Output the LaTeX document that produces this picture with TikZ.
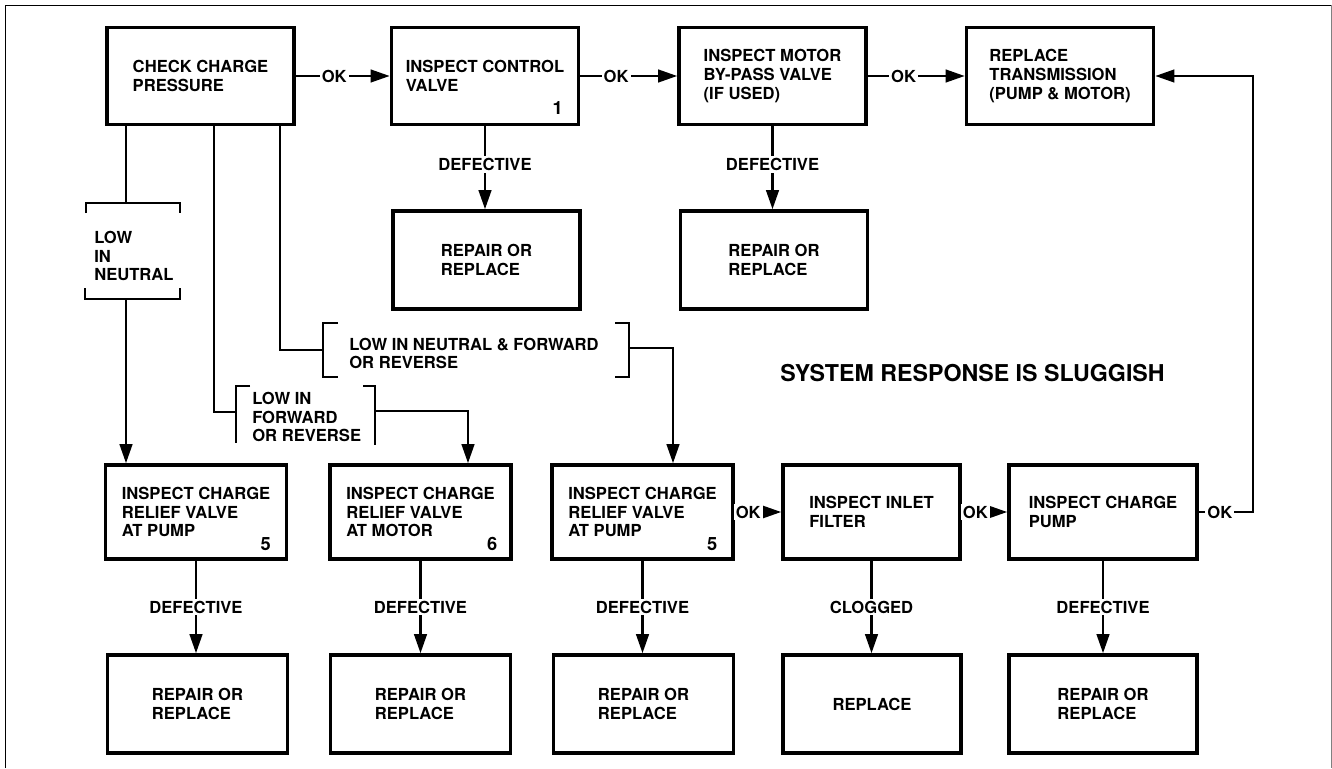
\documentclass[tikz,border=0pt]{standalone}
\usepackage{fontspec}
\setmainfont{TeX Gyre Heros}
\usepackage{tikz}
\usetikzlibrary{arrows.meta,positioning,calc}
\newcommand{\chartfont}{\fontsize{11.8}{13.4}\selectfont\bfseries}
\tikzset{
  box/.style={draw, line width=2.3pt, fill=white, align=left, inner sep=0pt, font=\chartfont, minimum width=4.675cm, minimum height=2.425cm},
  lowbox/.style={box, minimum width=4.525cm, minimum height=2.35cm},
  fixbox/.style={box, minimum width=4.5cm, minimum height=2.45cm},
  conn/.style={-{Triangle[length=4.8mm,width=3.1mm]}, line width=2.1pt},
  wire/.style={line width=2.1pt},
  lab/.style={fill=white, inner sep=1.5pt, font=\chartfont},
  cond/.style={align=left, inner sep=0pt, anchor=west, font=\chartfont},
  num/.style={inner sep=0pt, anchor=south east, font=\fontsize{13}{13}\selectfont\bfseries},
  frame/.style={line width=0.6pt}
}
\begin{document}
\begin{tikzpicture}[x=0.025cm, y=-0.025cm]
  \useasboundingbox (0,0) rectangle (1332,768);
  \draw[frame] (5,768) -- (5,5) -- (1331,5);
  \draw[frame, gray] (1331,5) -- (1331,768);

  % top row
  \node[box] (A) at (200.5,76) {CHECK CHARGE\\PRESSURE};
  \node[box] (B) at (485,76) {INSPECT CONTROL\\VALVE};
  \node[box] (C) at (772.5,76) {INSPECT MOTOR\\BY-PASS VALVE\\(IF USED)};
  \node[box] (D) at (1060,76) {REPLACE\\TRANSMISSION\\(PUMP \& MOTOR)};
  \node[box, minimum height=2.45cm] (R1) at (486.5,260) {REPAIR OR\\REPLACE};
  \node[box, minimum height=2.45cm] (R2) at (774,260) {REPAIR OR\\REPLACE};
  \node[num] (nB) at ($(B.south east)+(-17,-11)$) {1};

  % bottom row
  \node[lowbox] (E) at (196,512) {INSPECT CHARGE\\RELIEF VALVE\\AT PUMP};
  \node[lowbox] (F) at (420.5,512) {INSPECT CHARGE\\RELIEF VALVE\\AT MOTOR};
  \node[lowbox] (G) at (642.5,512) {INSPECT CHARGE\\RELIEF VALVE\\AT PUMP};
  \node[lowbox, minimum width=4.425cm] (H) at (871.5,512) {INSPECT INLET\\FILTER};
  \node[lowbox, minimum width=4.7cm] (I) at (1103,512) {INSPECT CHARGE\\PUMP};
  \node[num] (nE) at ($(E.south east)+(-17,-10)$) {5};
  \node[num] (nF) at ($(F.south east)+(-15,-10)$) {6};
  \node[num] (nG) at ($(G.south east)+(-17,-10)$) {5};

  \node[fixbox] (R3) at (197.5,704) {REPAIR OR\\REPLACE};
  \node[fixbox] (R4) at (420.5,704) {REPAIR OR\\REPLACE};
  \node[fixbox] (R5) at (643.5,704) {REPAIR OR\\REPLACE};
  \node[fixbox, minimum width=4.45cm] (R6) at (872,704) {REPLACE};
  \node[fixbox, minimum width=4.7cm] (R7) at (1103,704) {REPAIR OR\\REPLACE};

  \node[font=\fontsize{16.5}{18}\selectfont\bfseries] (title) at (972.5,373) {SYSTEM RESPONSE IS SLUGGISH};

  % conditions
  \node[cond] (neu) at (94,256) {LOW\\IN\\NEUTRAL};
  \node[cond] (fwd) at (252,417) {LOW IN\\FORWARD\\OR REVERSE};
  \node[cond] (both) at (349,353.5) {LOW IN NEUTRAL \& FORWARD\\OR REVERSE};
  \draw[wire] (86,213) -- (86,203) -- (180,203) -- (180,213);
  \draw[wire] (85,288) -- (85,299) -- (180,299) -- (180,288);
  \draw[wire] (250,386) -- (236,386) -- (236,443);
  \draw[wire] (363,386) -- (375,386) -- (375,445);
  \draw[wire] (338,323) -- (323,323) -- (323,377) -- (338,377);
  \draw[wire] (615,323) -- (629,323) -- (629,377) -- (615,377);
  \coordinate (neuIn) at (126,203);
  \coordinate (neuOut) at (126,299);
  \coordinate (fwdIn) at (236,412);
  \coordinate (fwdOut) at (375,411);
  \coordinate (bothIn) at (323,350);
  \coordinate (bothOut) at (629,348);
  \coordinate (loop) at (1253,512);

  % connectors
  \draw[conn] (A) -- node[lab,pos=0.41]{OK} (B);
  \draw[conn] (B) -- node[lab,pos=0.37]{OK} (C);
  \draw[conn] (C) -- node[lab,pos=0.37]{OK} (D);
  \draw[conn] (B.south) -- node[lab,pos=0.46]{DEFECTIVE} (B.south |- R1.north);
  \draw[conn] (C.south) -- node[lab,pos=0.46]{DEFECTIVE} (C.south |- R2.north);

  \draw[wire] (A.south -| neuIn) -- (neuIn);
  \draw[conn] (neuOut) -- (neuOut |- E.north);
  \draw[wire] ($(A.south)+(13.5,0)$) |- (fwdIn);
  \draw[conn] (fwdOut) -| ($(F.north)+(47.5,0)$);
  \draw[wire] ($(A.south)+(79.5,0)$) |- (bothIn);
  \draw[conn] (bothOut) -| ($(G.north)+(30.5,0)$);

  \draw[conn] (G) -- node[lab,pos=0.29]{OK} (H);
  \draw[conn] (H) -- node[lab,pos=0.3]{OK} (I);
  \draw[conn] (I.east) -- node[lab,pos=0.39]{OK} (loop) |- (D.east);

  \foreach \s/\t/\lab in {E/R3/DEFECTIVE, F/R4/DEFECTIVE, G/R5/DEFECTIVE, H/R6/CLOGGED, I/R7/DEFECTIVE}{
    \draw[conn] (\s.south) -- node[lab]{\lab} (\s.south |- \t.north);
  }
\end{tikzpicture}
\end{document}
